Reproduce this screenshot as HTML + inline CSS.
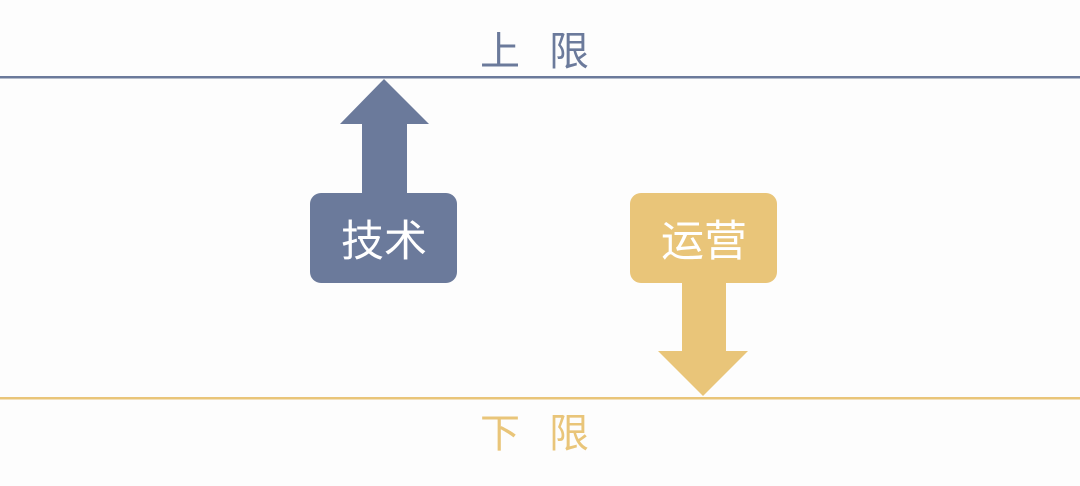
<!DOCTYPE html>
<html><head><meta charset="utf-8"><style>
html,body{margin:0;padding:0;background:#fdfdfd;}
body{width:1080px;height:486px;position:relative;overflow:hidden;font-family:"Liberation Sans","Noto Sans CJK SC",sans-serif;}
</style></head><body>
<svg width="1080" height="486" style="position:absolute;left:0;top:0">
<rect x="0" y="76" width="1080" height="2.5" fill="#6b7a9b"/>
<rect x="0" y="397" width="1080" height="2.5" fill="#e9c579"/>
<polygon points="384,79 429,124 407,124 407,200 362,200 362,124 340,124" fill="#6b7a9b"/>
<rect x="310" y="193" width="147" height="90" rx="11" fill="#6b7a9b"/>
<polygon points="682,270 726,270 726,351 748,351 703,396 658,351 682,351" fill="#e9c579"/>
<rect x="630" y="193" width="147" height="90" rx="11" fill="#e9c579"/>
<text x="384" y="256" fill="#fff" font-size="43" text-anchor="middle" font-family="Liberation Sans, Noto Sans CJK SC, sans-serif">技术</text>
<text x="704" y="256" fill="#fff" font-size="43" text-anchor="middle" font-family="Liberation Sans, Noto Sans CJK SC, sans-serif">运营</text>
<text x="480" y="65" fill="#6b7a9b" font-size="40" font-family="Liberation Sans, Noto Sans CJK SC, sans-serif">上</text>
<text x="549" y="65" fill="#6b7a9b" font-size="40" font-family="Liberation Sans, Noto Sans CJK SC, sans-serif">限</text>
<text x="480" y="447" fill="#e9c579" font-size="40" font-family="Liberation Sans, Noto Sans CJK SC, sans-serif">下</text>
<text x="549" y="447" fill="#e9c579" font-size="40" font-family="Liberation Sans, Noto Sans CJK SC, sans-serif">限</text>
</svg>
</body></html>
